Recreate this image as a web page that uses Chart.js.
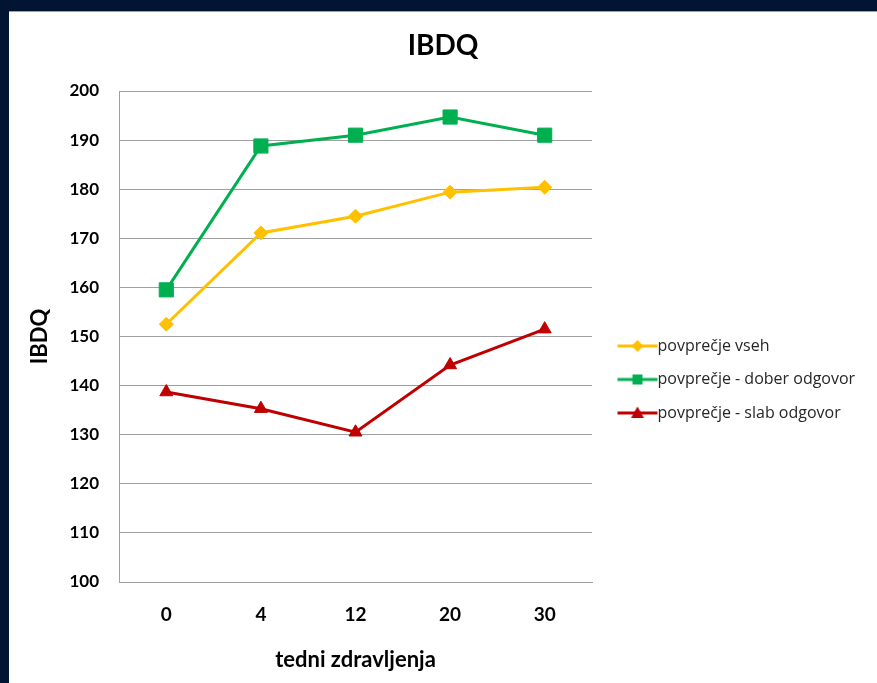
<!DOCTYPE html>
<html>
<head>
<meta charset="utf-8">
<script src="https://cdn.jsdelivr.net/npm/chart.js@4.4.1/dist/chart.umd.min.js"></script>
<style>
    html, body { margin: 0; padding: 0; background: #011431; overflow: hidden; }
    #frame {
        position: absolute; left: 9px; top: 11px; width: 868px; height: 671px;
        background: #fff; border-top: 1px solid #9aa3ad;
    }
</style>
</head>
<body>
<div id="frame"><canvas id="ibdqChart" width="868" height="671"></canvas></div>
<script>
// tedni zdravljenja (weeks of treatment)
const weeks = ["0", "4", "12", "20", "30"];

const avgAll = [152.5, 171.1, 174.5, 179.4, 180.4];
const avgGood = [159.5, 188.8, 191.0, 194.7, 191.0];
const avgPoor = [138.7, 135.3, 130.5, 144.2, 151.5];

const seriesNames = ["povprečje vseh", "povprečje - dober odgovor", "povprečje - slab odgovor"];

const yMin = 100;
const yMax = 200;
const yStep = 10;

const FONT = "Lato, 'Open Sans', sans-serif";
const LEGEND_FONT = "'Open Sans', Lato, sans-serif";
const LEGEND_WIDTH = 285;

// line + marker picture for the legend (Excel style).
// Wider than the legend box so the line runs right up to the text.
function legendIcon(color, style) {
    const c = document.createElement("canvas");
    c.width = 94;
    c.height = 16;
    const g = c.getContext("2d");
    g.strokeStyle = color;
    g.fillStyle = color;
    g.lineWidth = 3;
    g.beginPath();
    g.moveTo(35, 8);
    g.lineTo(75, 8);
    g.stroke();
    const cx = 55;
    g.beginPath();
    if (style === "rectRot") {
        g.moveTo(cx, 2); g.lineTo(cx + 6, 8); g.lineTo(cx, 14); g.lineTo(cx - 6, 8);
    } else if (style === "rect") {
        g.rect(cx - 5, 3, 10, 10);
    } else {
        g.moveTo(cx, 1.5); g.lineTo(cx + 6.5, 13); g.lineTo(cx - 6.5, 13);
    }
    g.closePath();
    g.fill();
    return c;
}

function makeSeries(label, data, color, style, radius) {
    return {
        label: label,
        data: data,
        borderColor: color,
        backgroundColor: color,
        borderWidth: 3,
        pointStyle: style,
        pointRadius: radius,
        pointHoverRadius: radius,
        pointBackgroundColor: color,
        pointBorderColor: color,
        pointBorderWidth: 1,
        tension: 0,
        fill: false
    };
}

// keep the legend column a fixed width so the plot area ends where the original does
const fixedLegendWidth = {
    id: "fixedLegendWidth",
    beforeLayout(chart) {
        const lg = chart.legend;
        if (!lg || lg._fixedWidth) return;
        const fit = lg.fit.bind(lg);
        lg.fit = function () {
            fit();
            this.width = LEGEND_WIDTH;
        };
        lg._fixedWidth = true;
    }
};

function draw() {
    const ctx = document.getElementById("ibdqChart").getContext("2d");

    new Chart(ctx, {
        type: "line",
        data: {
            labels: weeks,
            datasets: [
                makeSeries(seriesNames[0], avgAll, "#FFC000", "rectRot", 7),
                makeSeries(seriesNames[1], avgGood, "#00B050", "rect", 10),
                makeSeries(seriesNames[2], avgPoor, "#C00000", "triangle", 7.5)
            ]
        },
        plugins: [fixedLegendWidth],
        options: {
            responsive: false,
            animation: false,
            plugins: {
                title: {
                    display: true,
                    text: "IBDQ",
                    color: "#000",
                    font: { family: FONT, size: 28, weight: "bold" },
                    padding: { top: 17, bottom: 28.4 }
                },
                legend: {
                    position: "right",
                    title: {
                        display: true,
                        text: " ",
                        font: { size: 10 },
                        padding: { top: 52, bottom: 0 }
                    },
                    labels: {
                        usePointStyle: true,
                        pointStyleWidth: 40,
                        padding: 17.5,
                        color: "#262626",
                        font: { family: LEGEND_FONT, size: 16 },
                        generateLabels: chart => chart.data.datasets.map((ds, i) => ({
                            text: ds.label,
                            pointStyle: legendIcon(ds.borderColor, ds.pointStyle),
                            fillStyle: ds.borderColor,
                            strokeStyle: ds.borderColor,
                            lineWidth: 0,
                            hidden: false,
                            datasetIndex: i,
                            fontColor: "#262626"
                        }))
                    }
                },
                tooltip: { enabled: false }
            },
            scales: {
                x: {
                    offset: true,
                    afterFit: scale => { scale.height = 101; },
                    grid: { display: false, drawTicks: false, offset: true },
                    border: { display: true, color: "#a0a0a0", width: 1 },
                    ticks: {
                        color: "#000",
                        padding: 21,
                        font: { family: FONT, size: 19, weight: "bold" }
                    },
                    title: {
                        display: true,
                        text: "tedni zdravljenja",
                        color: "#000",
                        font: { family: FONT, size: 22, weight: "bold" },
                        padding: { top: 10, bottom: 10 }
                    }
                },
                y: {
                    min: yMin,
                    max: yMax,
                    afterFit: scale => { scale.width = 110; },
                    grid: { color: "#a0a0a0", lineWidth: 1, drawTicks: false },
                    border: { display: true, color: "#a0a0a0", width: 1 },
                    ticks: {
                        stepSize: yStep,
                        color: "#000",
                        padding: 20,
                        font: { family: FONT, size: 17, weight: "bold" }
                    },
                    title: {
                        display: true,
                        text: "IBDQ",
                        color: "#000",
                        font: { family: FONT, size: 22, weight: "bold" },
                        padding: { top: 18, bottom: 0 }
                    }
                }
            }
        }
    });
}

Promise.all([
    document.fonts.load("16px Lato"),
    document.fonts.load("bold 16px Lato"),
    document.fonts.load("16px 'Open Sans'")
]).then(draw, draw);
</script>
</body>
</html>
